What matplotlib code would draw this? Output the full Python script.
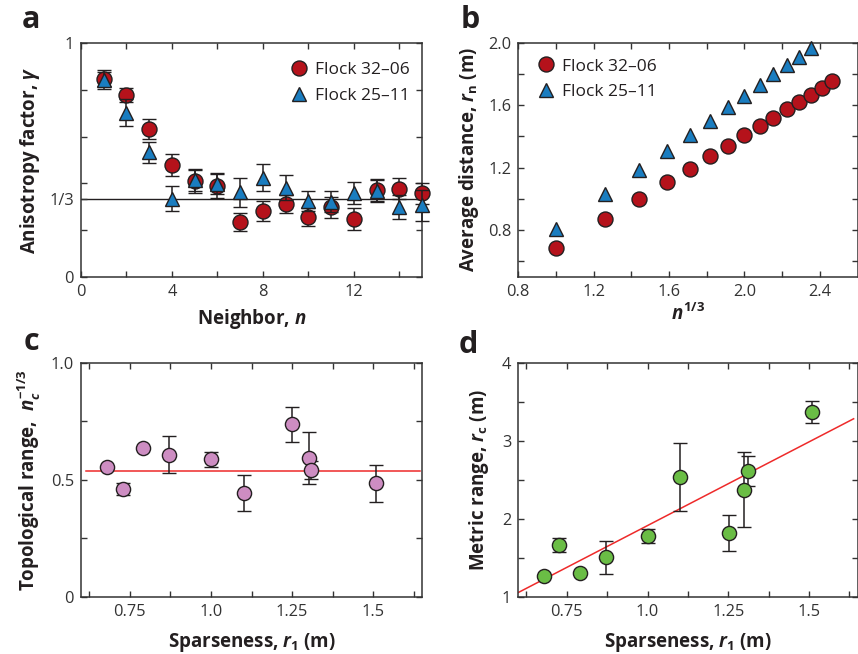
import matplotlib
matplotlib.use("Agg")
import matplotlib.pyplot as plt
import numpy as np

plt.rcParams['font.family'] = ['Open Sans', 'DejaVu Sans']
plt.rcParams['mathtext.fontset'] = 'custom'
plt.rcParams['mathtext.rm'] = 'Open Sans:bold'
plt.rcParams['mathtext.it'] = 'Open Sans:italic:bold'
plt.rcParams['mathtext.bf'] = 'Open Sans:bold'

# ---------------- data ----------------
# panel a
a_n = [1, 2, 3, 4, 5, 6, 7, 8, 9, 10, 11, 12, 13, 14, 15]
a_red = [0.848, 0.776, 0.634, 0.479, 0.410, 0.389, 0.235, 0.281, 0.311, 0.256, 0.299, 0.249, 0.372, 0.378, 0.357]
a_red_err = [0.03, 0.03, 0.043, 0.047, 0.05, 0.05, 0.038, 0.043, 0.038, 0.038, 0.045, 0.047, 0.047, 0.045, 0.046]
a_blue = [0.843, 0.702, 0.534, 0.335, 0.413, 0.399, 0.362, 0.425, 0.382, 0.325, 0.321, 0.359, 0.366, 0.299, 0.306]
a_blue_err = [0.04, 0.058, 0.045, 0.052, 0.045, 0.045, 0.062, 0.056, 0.053, 0.043, 0.045, 0.045, 0.047, 0.05, 0.065]
a_labels = ['Flock 32\u201306', 'Flock 25\u201311']

# panel b
b_x_red = [1.0, 1.26, 1.442, 1.587, 1.71, 1.817, 1.913, 2.0, 2.08, 2.154, 2.224, 2.289, 2.351, 2.41, 2.466]
b_y_red = [0.687, 0.868, 0.997, 1.104, 1.189, 1.271, 1.339, 1.407, 1.465, 1.519, 1.574, 1.621, 1.666, 1.711, 1.754]
b_x_blue = [1.0, 1.26, 1.442, 1.587, 1.71, 1.817, 1.913, 2.0, 2.08, 2.154, 2.224, 2.289, 2.351]
b_y_blue = [0.804, 1.029, 1.187, 1.307, 1.410, 1.500, 1.585, 1.658, 1.728, 1.799, 1.857, 1.910, 1.968]

# panel c
c_x = [0.680, 0.728, 0.791, 0.872, 1.0, 1.102, 1.251, 1.301, 1.309, 1.509]
c_y = [0.554, 0.460, 0.634, 0.607, 0.587, 0.442, 0.736, 0.593, 0.542, 0.484]
c_err = [0.0, 0.025, 0.0, 0.08, 0.031, 0.076, 0.076, 0.11, 0.038, 0.08]
c_mean = 0.538

# panel d
d_x = [0.681, 0.727, 0.791, 0.870, 1.0, 1.101, 1.251, 1.300, 1.312, 1.510]
d_y = [1.27, 1.663, 1.30, 1.505, 1.783, 2.536, 1.822, 2.37, 2.61, 3.366]
d_err = [0.0, 0.095, 0.0, 0.21, 0.09, 0.44, 0.23, 0.48, 0.19, 0.14]
d_fit_slope = 2.146
d_fit_intercept = -0.234

# ---------------- style ----------------
RED = '#b5121b'
BLUE = '#1a7dc0'
PINK = '#cd8dc2'
GREEN = '#6abd45'
EDGE = '#231f20'
TXT = '#231f20'
LINE_RED = '#ee2a2a'

W, H = 858, 654
fig = plt.figure(figsize=(W / 100, H / 100), dpi=100)


def px_axes(left, top, right, bottom):
    return fig.add_axes([left / W, 1 - bottom / H, (right - left) / W, (bottom - top) / H])


def style(ax):
    for s in ax.spines.values():
        s.set_color('#333333')
        s.set_linewidth(1.1)
    ax.tick_params(which='both', direction='in', top=True, right=True,
                   length=4.5, width=1.0, color='#333333',
                   labelsize=11.8, labelcolor='#333333', pad=5)
    ax.tick_params(which='minor', length=4.5)


ax_a = px_axes(81, 43, 422, 277)
ax_b = px_axes(518.3, 42.7, 857.5, 276.7)
ax_c = px_axes(81, 362.7, 422, 596.7)
ax_d = px_axes(518.3, 362.7, 857.5, 596.7)

ms_circ = 10.8
ms_tri = 10.5
eb_kw = dict(ecolor=EDGE, elinewidth=1.1, capsize=4.8, capthick=1.1, linestyle='none',
             markeredgecolor=EDGE, markeredgewidth=1.0)
leg_kw = dict(frameon=False, fontsize=12.5, handletextpad=0.35, labelspacing=0.55,
              handlelength=1.2, labelcolor=TXT)

# ---- panel a ----
ax = ax_a
style(ax)
ax.axhline(1 / 3, color=EDGE, lw=1.0, zorder=1)
ax.errorbar(a_n, a_red, yerr=a_red_err, fmt='o', ms=ms_circ, mfc=RED, zorder=3,
            label=a_labels[0], clip_on=False, **eb_kw)
ax.errorbar(a_n, a_blue, yerr=a_blue_err, fmt='^', ms=ms_tri, mfc=BLUE, zorder=4,
            label=a_labels[1], clip_on=False, **eb_kw)
ax.set_xlim(0, 15)
ax.set_ylim(0, 1)
ax.set_xticks([0, 4, 8, 12])
ax.set_xticks([2, 6, 10, 14], minor=True)
ax.set_yticks([0, 1 / 3, 1])
ax.set_yticklabels(['0', '1/3', '1'])
ax.set_yticks([0.2, 0.4, 0.6, 0.8], minor=True)
ax.set_xlabel(r'Neighbor, $n$', fontsize=13.5, fontweight='bold', color=TXT, labelpad=5)
ax.set_ylabel(r'Anisotropy factor, $\gamma$', fontsize=13.5, fontweight='bold', color=TXT, labelpad=5)
h, l = ax.get_legend_handles_labels()
h = [hh[0] for hh in h]
ax.legend(h, l, loc='upper right', bbox_to_anchor=(1.0, 0.97), borderaxespad=0.3, **leg_kw)

# ---- panel b ----
ax = ax_b
style(ax)
ax.plot(b_x_red, b_y_red, 'o', ms=ms_circ, mfc=RED, mec=EDGE, mew=1.0, label=a_labels[0], zorder=3)
ax.plot(b_x_blue, b_y_blue, '^', ms=ms_tri, mfc=BLUE, mec=EDGE, mew=1.0, label=a_labels[1],
        zorder=3, clip_on=False)
ax.set_xlim(0.8, 2.6)
ax.set_ylim(0.5, 2.0)
ax.set_xticks([0.8, 1.2, 1.6, 2.0, 2.4])
ax.set_xticklabels(['0.8', '1.2', '1.6', '2.0', '2.4'])
ax.set_xticks([1.0, 1.4, 1.8, 2.2], minor=True)
ax.set_yticks([0.8, 1.2, 1.6, 2.0])
ax.set_yticklabels(['0.8', '1.2', '1.6', '2.0'])
ax.set_yticks([0.6, 1.0, 1.4, 1.8], minor=True)
ax.set_xlabel(r'$n^{1/3}$', fontsize=13.5, fontweight='bold', color=TXT, labelpad=3)
ax.set_ylabel(r'Average distance, $r_{\mathrm{n}}$ (m)', fontsize=13.5, fontweight='bold',
              color=TXT, labelpad=5)
ax.legend(loc='upper left', bbox_to_anchor=(0.015, 0.985), borderaxespad=0.3, **leg_kw)

# ---- panel c ----
ax = ax_c
style(ax)
ax.plot([0.615, 1.645], [c_mean, c_mean], color=LINE_RED, lw=1.1, zorder=1)
ax.errorbar(c_x, c_y, yerr=c_err, fmt='o', ms=10.2, mfc=PINK, zorder=3, **eb_kw)
ax.set_xlim(0.6, 1.65)
ax.set_ylim(0, 1.0)
ax.set_xticks([0.75, 1.0, 1.25, 1.5])
ax.set_xticklabels(['0.75', '1.0', '1.25', '1.5'])
ax.set_xticks([0.625, 0.875, 1.125, 1.375, 1.625], minor=True)
ax.set_yticks([0, 0.5, 1.0])
ax.set_yticklabels(['0', '0.5', '1.0'])
ax.set_yticks([0.25, 0.75], minor=True)
ax.set_xlabel(r'Sparseness, $r_1$ (m)', fontsize=13.5, fontweight='bold', color=TXT, labelpad=8)
ax.set_ylabel(r'Topological range,  $n_c^{-1/3}$', fontsize=13.5, fontweight='bold',
              color=TXT, labelpad=6)

# ---- panel d ----
ax = ax_d
style(ax)
fx = np.array([0.6, 1.638])
ax.plot(fx, d_fit_slope * fx + d_fit_intercept, color=LINE_RED, lw=1.1, zorder=1)
ax.errorbar(d_x, d_y, yerr=d_err, fmt='o', ms=10.2, mfc=GREEN, zorder=3, **eb_kw)
ax.set_xlim(0.6, 1.65)
ax.set_ylim(1, 4)
ax.set_xticks([0.75, 1.0, 1.25, 1.5])
ax.set_xticklabels(['0.75', '1.0', '1.25', '1.5'])
ax.set_xticks([0.625, 0.875, 1.125, 1.375, 1.625], minor=True)
ax.set_yticks([1, 2, 3, 4])
ax.set_yticks([1.5, 2.5, 3.5], minor=True)
ax.set_xlabel(r'Sparseness, $r_1$ (m)', fontsize=13.5, fontweight='bold', color=TXT, labelpad=8)
ax.set_ylabel(r'Metric range, $r_{\mathrm{c}}$ (m)', fontsize=13.5, fontweight='bold',
              color=TXT, labelpad=8)

# panel letters
for lab, x, y in [('a', 22, 28), ('b', 461, 28), ('c', 24, 350), ('d', 459, 353)]:
    fig.text(x / W, 1 - y / H, lab, fontsize=22, fontweight='bold', color=TXT,
             ha='left', va='baseline')

fig.savefig('out.png', dpi=100, facecolor='white')
